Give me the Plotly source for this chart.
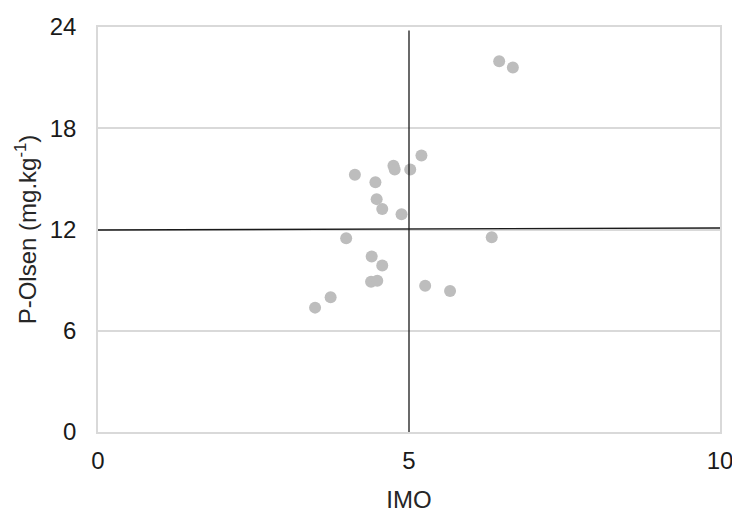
import plotly.graph_objects as go

imo = [6.45, 6.67, 5.20, 4.75, 4.77, 5.02, 4.13, 4.46, 4.48, 4.57, 4.88,
       3.99, 6.33, 4.40, 4.57, 4.39, 4.49, 5.26, 5.66, 3.74, 3.49]
p_olsen = [21.97, 21.60, 16.39, 15.78, 15.55, 15.55, 15.25, 14.80, 13.80, 13.21, 12.91,
           11.48, 11.54, 10.40, 9.87, 8.90, 8.96, 8.67, 8.36, 7.98, 7.37]

x_ticks = [0, 5, 10]
y_ticks = [0, 6, 12, 18, 24]

vline_x = [5, 5]
vline_y = [0, 23.8]
hline_x = [0, 10]
hline_y = [11.97, 12.09]

fig = go.Figure()
fig.add_trace(go.Scatter(x=imo, y=p_olsen, mode="markers",
                         marker=dict(size=12, color="#bdbdbd"), showlegend=False))
fig.add_trace(go.Scatter(x=vline_x, y=vline_y, mode="lines",
                         line=dict(color="#1a1a1a", width=1.3), showlegend=False))
fig.add_trace(go.Scatter(x=hline_x, y=hline_y, mode="lines",
                         line=dict(color="#1a1a1a", width=1.3), showlegend=False))

font = "Liberation Sans, Arial, sans-serif"
fig.update_layout(
    width=732, height=505,
    margin=dict(l=90, r=20, t=19, b=81),
    paper_bgcolor="white", plot_bgcolor="white",
    font=dict(family=font, size=24, color="#1a1a1a"),
    xaxis=dict(range=[0, 10], tickvals=x_ticks, showgrid=False, zeroline=False,
               showline=True, linecolor="#d9d9d9", linewidth=1.5, mirror=True,
               ticks="", ticklen=0, automargin=False, ticklabelstandoff=6,
               tickfont=dict(size=24, family=font, color="#1a1a1a"),
               title=dict(text="IMO", font=dict(size=24, family=font, color="#262626"), standoff=26)),
    yaxis=dict(range=[0, 24], tickvals=y_ticks, showgrid=True, gridcolor="#d9d9d9",
               gridwidth=1.5, zeroline=False,
               showline=True, linecolor="#d9d9d9", linewidth=1.5, mirror=True,
               ticks="", ticklen=0, automargin=False, ticklabelstandoff=15,
               tickfont=dict(size=24, family=font, color="#1a1a1a"),
               title=dict(text="P-Olsen (mg.kg<sup>-1</sup>)",
                          font=dict(size=24, family=font, color="#262626"), standoff=6)),
)
fig.write_html("out.html")
